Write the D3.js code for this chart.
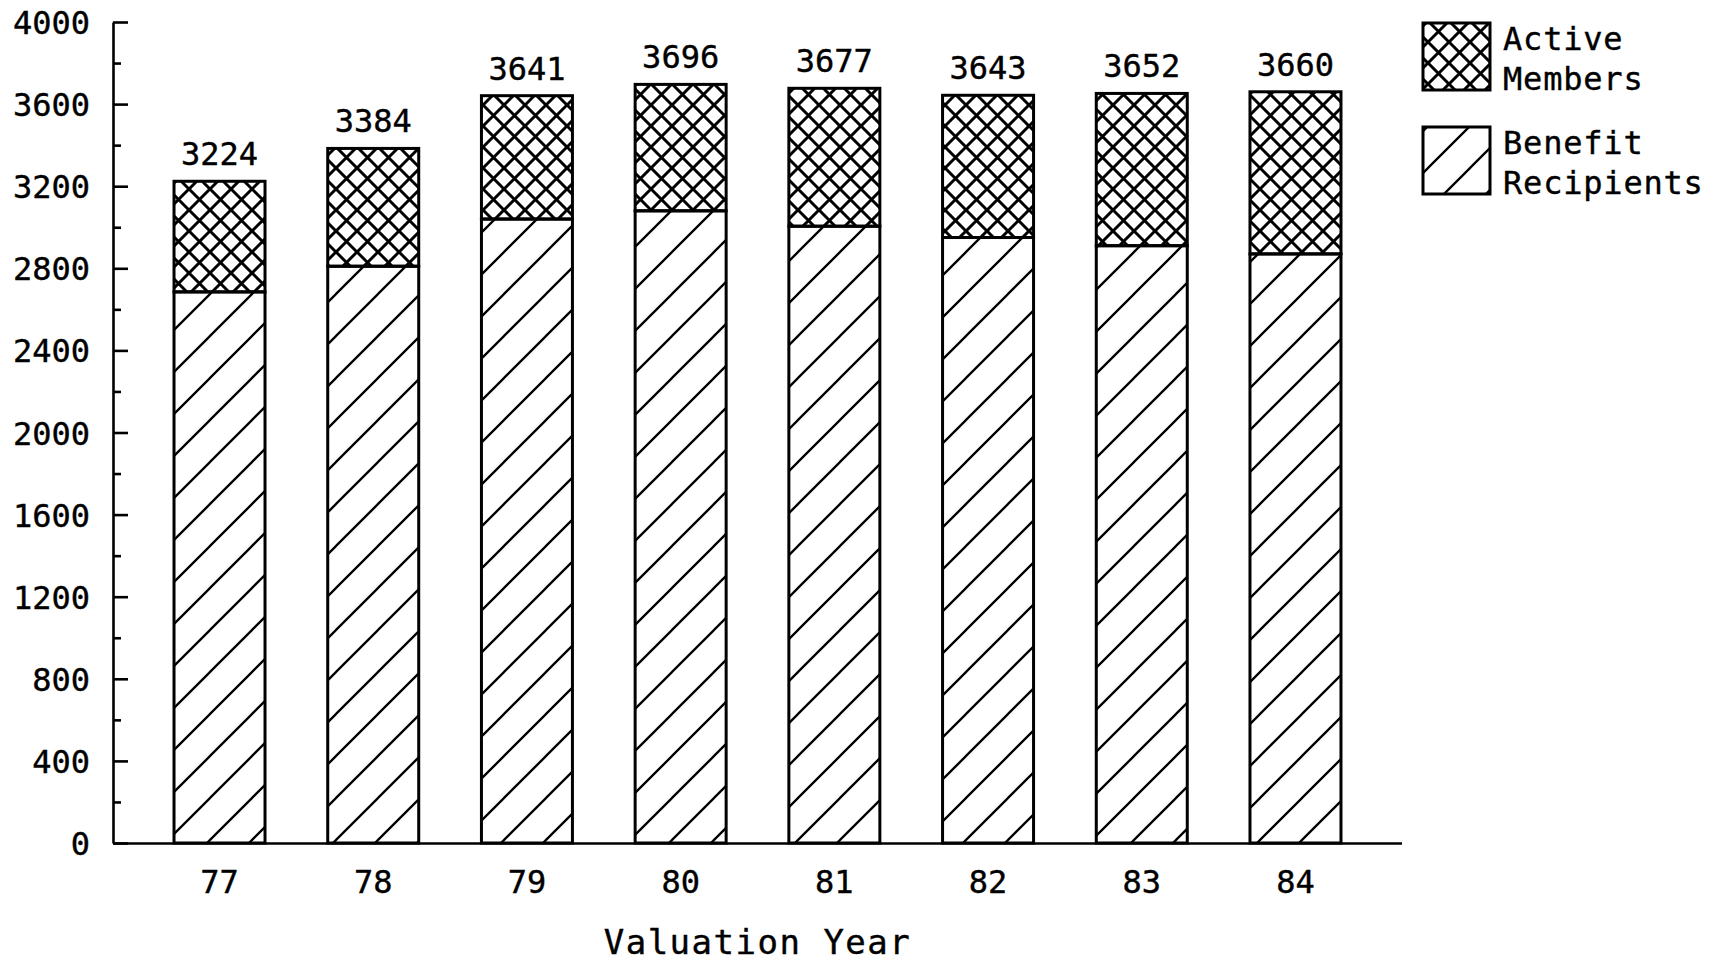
<!DOCTYPE html>
<html>
<head>
<meta charset="utf-8">
<script src="https://cdn.jsdelivr.net/npm/d3@7"></script>
<style>
  body { margin: 0; background: #fff; }
  text { font-family: "DejaVu Sans Mono", monospace; fill: #000; stroke: #000; stroke-width: 0.4px; }
</style>
</head>
<body>
<svg id="chart"></svg>
<script>
// values
const years = ["77", "78", "79", "80", "81", "82", "83", "84"];
const totals = [3224, 3384, 3641, 3696, 3677, 3643, 3652, 3660];
const benefitRecipients = [2685, 2810, 3040, 3080, 3005, 2950, 2910, 2870];
const activeMembers = [539, 574, 601, 616, 672, 693, 742, 790];
const yTicks = [0, 400, 800, 1200, 1600, 2000, 2400, 2800, 3200, 3600, 4000];
const yMinorTicks = [200, 600, 1000, 1400, 1800, 2200, 2600, 3000, 3400, 3800];

const width = 1727, height = 961;
const margin = { top: 22, right: 325, bottom: 118, left: 113 };

const svg = d3.select("#chart")
    .attr("width", width)
    .attr("height", height);

// hatch patterns
const defs = svg.append("defs");
defs.append("pattern")
    .attr("id", "diag")
    .attr("patternUnits", "userSpaceOnUse")
    .attr("width", 42).attr("height", 42)
    .append("path")
    .attr("d", "M0,42 L42,0 M-10,10 L10,-10 M32,52 L52,32")
    .attr("stroke", "#000").attr("stroke-width", 2.3);

defs.append("pattern")
    .attr("id", "cross")
    .attr("patternUnits", "userSpaceOnUse")
    .attr("width", 21).attr("height", 21)
    .append("path")
    .attr("d", "M0,21 L21,0 M-5,5 L5,-5 M16,26 L26,16 M0,0 L21,21 M-5,16 L5,26 M16,-5 L26,5")
    .attr("stroke", "#000").attr("stroke-width", 3);

const x = d3.scaleBand()
    .domain(years)
    .range([margin.left, width - margin.right])
    .paddingInner(0.408)
    .paddingOuter(0.397);

const y = d3.scaleLinear()
    .domain([0, 4000])
    .range([height - margin.bottom, margin.top]);

// stacked data: benefit recipients at the bottom, active members on top
const rows = years.map((yr, i) => ({
    year: yr,
    benefit: benefitRecipients[i],
    active: activeMembers[i],
    total: totals[i]
}));
const stack = d3.stack().keys(["benefit", "active"]);
const series = stack(rows);
const fills = { benefit: "url(#diag)", active: "url(#cross)" };

svg.append("g")
    .selectAll("g")
    .data(series)
    .join("g")
    .attr("fill", d => fills[d.key])
    .selectAll("rect")
    .data(d => d)
    .join("rect")
    .attr("x", d => x(d.data.year))
    .attr("y", d => y(d[1]))
    .attr("width", x.bandwidth())
    .attr("height", d => y(d[0]) - y(d[1]))
    .attr("stroke", "#000")
    .attr("stroke-width", 3);

// total labels above bars
svg.append("g")
    .selectAll("text")
    .data(rows)
    .join("text")
    .attr("x", d => x(d.year) + x.bandwidth() / 2)
    .attr("y", d => y(d.total) - 16)
    .attr("text-anchor", "middle")
    .style("font-size", "32px")
    .text(d => d.total);

// y axis, ticks pointing inward
const yAxis = svg.append("g")
    .attr("transform", `translate(${margin.left},0)`)
    .call(d3.axisLeft(y)
        .tickValues(yTicks)
        .tickSizeInner(-15)
        .tickSizeOuter(0)
        .tickPadding(23)
        .tickFormat(d3.format("d")));
yAxis.selectAll("text").style("font-size", "32px").attr("dy", "0.36em");

const yMinor = svg.append("g")
    .attr("transform", `translate(${margin.left},0)`)
    .call(d3.axisLeft(y)
        .tickValues(yMinorTicks)
        .tickSizeInner(-8)
        .tickSizeOuter(0)
        .tickFormat(""));
yMinor.select(".domain").remove();

svg.selectAll(".tick line, .domain").attr("stroke", "#000").attr("stroke-width", 2.6);

// x axis
const xAxis = svg.append("g")
    .attr("transform", `translate(0,${height - margin.bottom})`)
    .call(d3.axisBottom(x).tickSize(0).tickPadding(27));
xAxis.selectAll("text").style("font-size", "32px");
xAxis.select(".domain")
    .attr("d", `M${margin.left},0.5H${width - margin.right}`)
    .attr("stroke", "#000").attr("stroke-width", 2.6);

// axis title
svg.append("text")
    .attr("x", (margin.left + width - margin.right) / 2)
    .attr("y", 954)
    .attr("text-anchor", "middle")
    .style("font-size", "34px")
    .style("letter-spacing", "1.5px")
    .text("Valuation Year");

// legend
const legendItems = [
    { fill: "url(#cross)", lines: ["Active", "Members"], top: 23 },
    { fill: "url(#diag)", lines: ["Benefit", "Recipients"], top: 127 }
];
const legend = svg.append("g");
legendItems.forEach(item => {
    legend.append("rect")
        .attr("x", 1423).attr("y", item.top)
        .attr("width", 67).attr("height", 67)
        .attr("fill", item.fill)
        .attr("stroke", "#000").attr("stroke-width", 3);
    item.lines.forEach((t, j) => {
        legend.append("text")
            .attr("x", 1503)
            .attr("y", item.top + 27 + j * 40)
            .style("font-size", "32px")
            .style("letter-spacing", "0.8px")
            .text(t);
    });
});
</script>
</body>
</html>
